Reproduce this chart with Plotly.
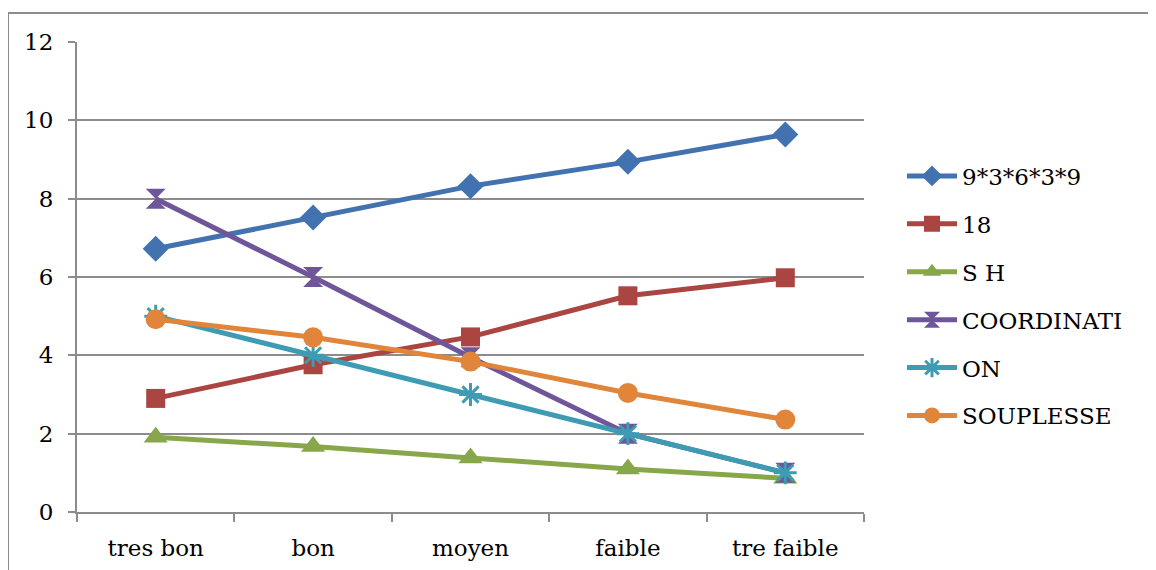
import plotly.graph_objects as go

categories = ["tres bon", "bon", "moyen", "faible", "tre faible"]
series_names = ["9*3*6*3*9", "18", "S H", "COORDINATI", "ON", "SOUPLESSE"]
s_blue = [6.72, 7.52, 8.32, 8.94, 9.64]
s_red = [2.9, 3.76, 4.47, 5.52, 5.98]
s_green = [1.91, 1.67, 1.38, 1.1, 0.86]
s_purple = [8, 6, 3.95, 2, 1]
s_cyan = [5, 4, 3, 2, 1]
s_orange = [4.92, 4.46, 3.84, 3.04, 2.36]

values = [s_blue, s_red, s_green, s_purple, s_cyan, s_orange]
colors = ["#4372B0", "#AA4542", "#88A74A", "#6F569A", "#3E9BB3", "#E0853A"]
symbols = ["diamond", "square", "triangle-up", "hourglass", "asterisk-open", "circle"]
sizes = [20, 19, 21, 20, 19, 20]

fig = go.Figure()
for i, (name, vals) in enumerate(zip(series_names, values)):
    mk = dict(symbol=symbols[i], size=sizes[i], color=colors[i])
    if symbols[i] == "asterisk-open":
        mk["line"] = dict(color=colors[i], width=3)
    fig.add_trace(go.Scatter(
        x=categories, y=vals, name=name, mode="lines+markers",
        line=dict(color=colors[i], width=5), marker=mk,
        legendgroup=name, cliponaxis=False,
    ))

# page body adds an 8px offset; compensate
OFF = 8
L, T = 77 - OFF, 42 - OFF
pw, ph = 787, 470
W, H = 1156, 570
R = W - L - pw
B = H - T - ph
bx = (8 - 77) / pw
by = 1 + (42 - 13) / ph
gray = "#8C8C8C"
FONT = "DejaVu Serif"
FS = 23

fig.update_layout(
    width=W, height=H,
    margin=dict(l=L, r=R, t=T, b=B, autoexpand=False),
    paper_bgcolor="white", plot_bgcolor="white",
    font=dict(family=FONT, size=FS, color="black"),
    showlegend=True,
    legend=dict(x=(902 - 77) / pw, xanchor="left", y=(512 - 296) / ph, yanchor="middle",
                traceorder="grouped", tracegroupgap=15, font=dict(family=FONT, size=FS),
                itemwidth=50, bgcolor="rgba(0,0,0,0)"),
    xaxis=dict(showgrid=False, showline=True, linecolor=gray, linewidth=2,
               ticks="outside", tickson="boundaries", ticklen=8, tickcolor=gray, tickwidth=2,
               ticklabelstandoff=14, range=[-0.5, 4.5], tickfont=dict(family=FONT, size=FS)),
    yaxis=dict(range=[0, 12], dtick=2, showgrid=True, gridcolor=gray, gridwidth=2,
               showline=True, linecolor=gray, linewidth=2, zeroline=False,
               ticks="outside", ticklen=7, tickcolor=gray, tickwidth=2,
               ticklabelstandoff=10, tickfont=dict(family=FONT, size=FS)),
    shapes=[
        dict(type="line", xref="paper", yref="paper", x0=bx, x1=bx, y0=-0.5, y1=by,
             line=dict(color=gray, width=2)),
        dict(type="line", xref="paper", yref="paper", x0=bx, x1=1 + (R + 10) / pw, y0=by, y1=by,
             line=dict(color=gray, width=2)),
    ],
)

fig.write_html("out.html")
